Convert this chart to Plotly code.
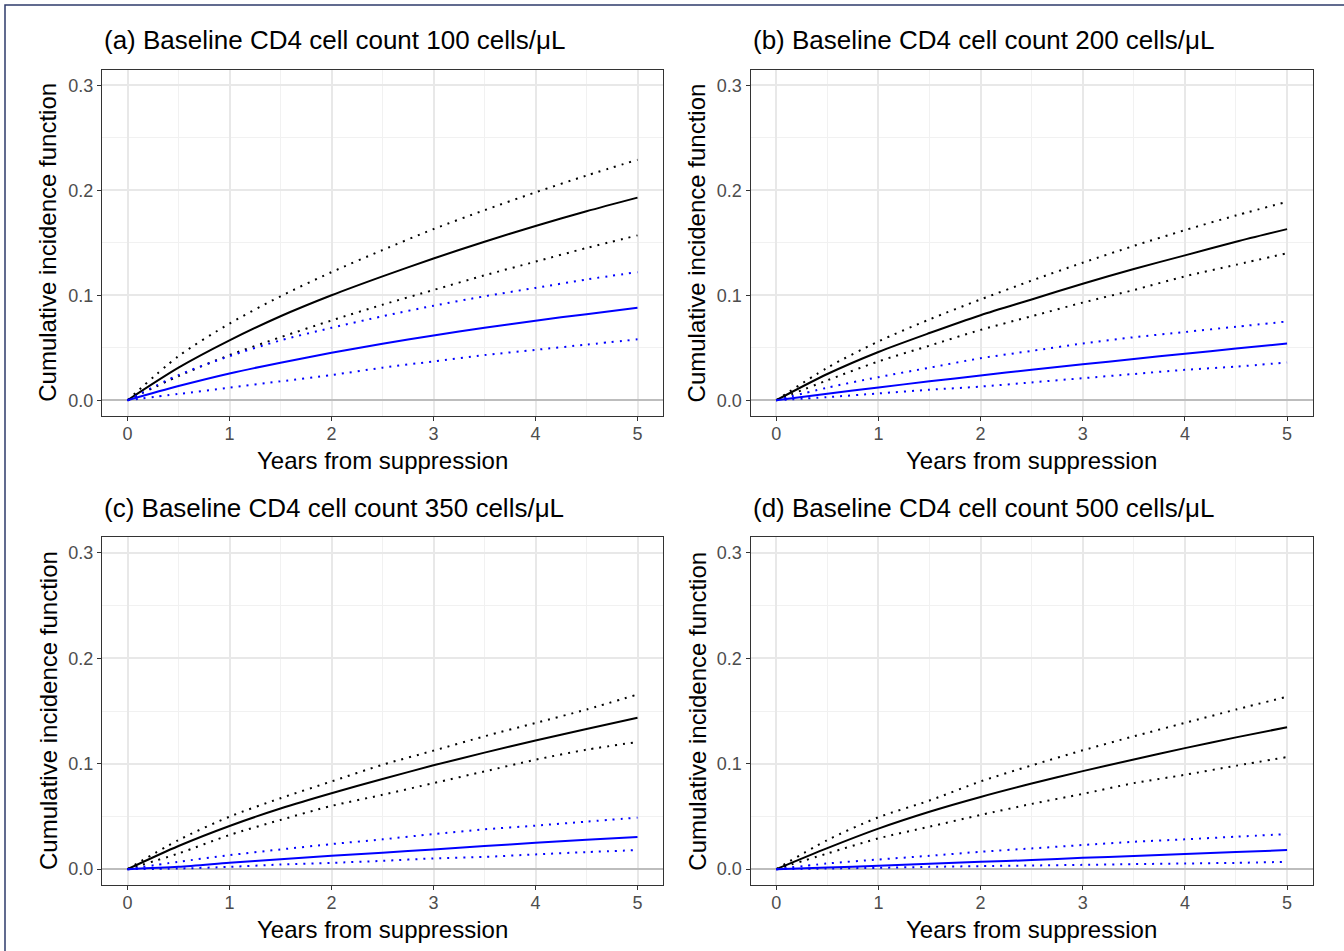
import plotly.graph_objects as go

# ---------------- data ----------------
years = [0, 0.5, 1, 1.5, 2, 2.5, 3, 3.5, 4, 4.5, 5]

panel_titles = [
    "(a) Baseline CD4 cell count 100 cells/μL",
    "(b) Baseline CD4 cell count 200 cells/μL",
    "(c) Baseline CD4 cell count 350 cells/μL",
    "(d) Baseline CD4 cell count 500 cells/μL",
]

# panel (a)
black_est_a = [0, 0.031, 0.057, 0.080, 0.100, 0.118, 0.135, 0.151, 0.166, 0.180, 0.193]
black_hi_a = [0, 0.042, 0.073, 0.099, 0.122, 0.143, 0.163, 0.181, 0.198, 0.214, 0.229]
black_lo_a = [0, 0.023, 0.043, 0.060, 0.076, 0.091, 0.105, 0.119, 0.132, 0.145, 0.157]
blue_hi_a = [0, 0.024, 0.042, 0.057, 0.069, 0.080, 0.090, 0.099, 0.107, 0.115, 0.122]
blue_est_a = [0, 0.0135, 0.0255, 0.0358, 0.0452, 0.0538, 0.0617, 0.069, 0.0758, 0.082, 0.088]
blue_lo_a = [0, 0.006, 0.012, 0.018, 0.024, 0.031, 0.037, 0.043, 0.048, 0.053, 0.058]

# panel (b)
black_est_b = [0, 0.025, 0.046, 0.064, 0.081, 0.096, 0.111, 0.125, 0.138, 0.151, 0.163]
black_hi_b = [0, 0.031, 0.056, 0.077, 0.096, 0.114, 0.131, 0.147, 0.162, 0.176, 0.189]
black_lo_b = [0, 0.019, 0.037, 0.052, 0.067, 0.080, 0.093, 0.105, 0.118, 0.129, 0.140]
blue_hi_b = [0, 0.012, 0.022, 0.031, 0.040, 0.047, 0.054, 0.060, 0.065, 0.070, 0.075]
blue_est_b = [0, 0.0062, 0.0122, 0.018, 0.0236, 0.029, 0.0342, 0.0393, 0.0443, 0.0492, 0.054]
blue_lo_b = [0, 0.003, 0.0065, 0.010, 0.013, 0.017, 0.021, 0.025, 0.029, 0.032, 0.036]

# panel (c)
black_est_c = [0, 0.022, 0.041, 0.0575, 0.072, 0.0855, 0.0985, 0.1105, 0.122, 0.133, 0.1435]
black_hi_c = [0, 0.0276, 0.0498, 0.0673, 0.0832, 0.099, 0.1124, 0.126, 0.1387, 0.1514, 0.1657]
black_lo_c = [0, 0.0149, 0.0324, 0.0467, 0.060, 0.0705, 0.0816, 0.0927, 0.1038, 0.1133, 0.1206]
blue_hi_c = [0, 0.007, 0.0133, 0.0187, 0.0238, 0.0283, 0.0333, 0.0378, 0.0413, 0.0451, 0.0489]
blue_est_c = [0, 0.0022, 0.006, 0.0095, 0.0127, 0.0156, 0.0187, 0.0219, 0.0251, 0.0279, 0.0305]
blue_lo_c = [0, 0.0006, 0.0022, 0.0044, 0.006, 0.0079, 0.0102, 0.0117, 0.014, 0.0162, 0.0181]

# panel (d)
black_est_d = [0, 0.020, 0.0385, 0.0545, 0.0685, 0.0812, 0.093, 0.104, 0.1148, 0.125, 0.1346]
black_hi_d = [0, 0.0276, 0.0492, 0.0651, 0.0832, 0.0984, 0.1127, 0.126, 0.1387, 0.1514, 0.1635]
black_lo_d = [0, 0.0149, 0.0292, 0.0403, 0.0514, 0.0619, 0.0714, 0.0816, 0.0895, 0.0981, 0.1063]
blue_hi_d = [0, 0.0054, 0.0092, 0.0127, 0.0165, 0.0197, 0.0229, 0.026, 0.0283, 0.0308, 0.0333]
blue_est_d = [0, 0.0016, 0.0032, 0.0051, 0.007, 0.0086, 0.0108, 0.0124, 0.0143, 0.0162, 0.0181]
blue_lo_d = [0, 0.0006, 0.0013, 0.0022, 0.0029, 0.0035, 0.0041, 0.0048, 0.0054, 0.006, 0.007]

x_ticks = [0, 1, 2, 3, 4, 5]
y_ticks = [0.0, 0.1, 0.2, 0.3]
y_tick_labels = ["0.0", "0.1", "0.2", "0.3"]
x_title = "Years from suppression"
y_title = "Cumulative incidence function"

panel_series = [
    (black_est_a, black_hi_a, black_lo_a, blue_est_a, blue_hi_a, blue_lo_a),
    (black_est_b, black_hi_b, black_lo_b, blue_est_b, blue_hi_b, blue_lo_b),
    (black_est_c, black_hi_c, black_lo_c, blue_est_c, blue_hi_c, blue_lo_c),
    (black_est_d, black_hi_d, black_lo_d, blue_est_d, blue_hi_d, blue_lo_d),
]

# ---------------- layout geometry (pixels) ----------------
W, H = 1344, 951
FONT = "Liberation Sans, Arial, Helvetica, sans-serif"
# left, right, top, bottom of each plotting panel in pixels
panel_px = [
    (102, 663, 69.5, 416),
    (750.7, 1312.6, 69.5, 416),
    (102, 663, 537, 885),
    (750.7, 1312.6, 537, 885),
]

def px_x(p):
    return p / W

def px_y(p):
    return (H - p) / H

fig = go.Figure()

BLACK = "#000000"
BLUE = "#0000FF"
DOT = "2px,6px"

for i, series in enumerate(panel_series):
    xa = "x" if i == 0 else f"x{i + 1}"
    ya = "y" if i == 0 else f"y{i + 1}"
    b_est, b_hi, b_lo, u_est, u_hi, u_lo = series
    styles = [
        (b_hi, BLACK, DOT),
        (b_lo, BLACK, DOT),
        (b_est, BLACK, "solid"),
        (u_hi, BLUE, DOT),
        (u_lo, BLUE, DOT),
        (u_est, BLUE, "solid"),
    ]
    for vals, col, dash in styles:
        fig.add_trace(go.Scatter(
            x=years, y=vals, mode="lines", xaxis=xa, yaxis=ya,
            line=dict(color=col, width=2, dash=dash, shape="spline", smoothing=0.8),
            hoverinfo="skip", showlegend=False,
        ))

annotations = []
for i, (l, r, t, b) in enumerate(panel_px):
    sfx = "" if i == 0 else str(i + 1)
    fig.layout["xaxis" + sfx] = dict(
        domain=[px_x(l), px_x(r)], range=[-0.25, 5.25], anchor="y" + sfx,
        tickvals=x_ticks, ticks="outside", ticklen=4, tickcolor="#333333", tickwidth=1.2,
        tickfont=dict(family=FONT, size=18, color="#4D4D4D"),
        ticklabelstandoff=-3,
        showgrid=True, gridcolor="#E8E8E8", gridwidth=1.6,
        minor=dict(tickvals=[0.5, 1.5, 2.5, 3.5, 4.5], showgrid=True,
                   gridcolor="#F1F1F1", gridwidth=1, ticks=""),
        showline=True, mirror=True, linecolor="#333333", linewidth=1.4,
        zeroline=False, fixedrange=True,
    )
    fig.layout["yaxis" + sfx] = dict(
        domain=[px_y(b), px_y(t)], range=[-0.015, 0.315], anchor="x" + sfx,
        tickvals=y_ticks, ticktext=y_tick_labels, ticks="outside", ticklen=4,
        tickcolor="#333333", tickwidth=1.2,
        tickfont=dict(family=FONT, size=18, color="#4D4D4D"),
        showgrid=True, gridcolor="#E8E8E8", gridwidth=1.6,
        minor=dict(tickvals=[0.05, 0.15, 0.25], showgrid=True,
                   gridcolor="#F1F1F1", gridwidth=1, ticks=""),
        showline=True, mirror=True, linecolor="#333333", linewidth=1.4,
        zeroline=True, zerolinecolor="#BDBDBD", zerolinewidth=2.2, fixedrange=True,
    )
    # panel title
    annotations.append(dict(
        text=panel_titles[i], xref="paper", yref="paper",
        x=px_x(l), y=px_y(t - 29), xanchor="left", yanchor="middle",
        showarrow=False, font=dict(family=FONT, size=26, color="#000000"),
    ))
    # x axis title
    annotations.append(dict(
        text=x_title, xref="paper", yref="paper",
        x=px_x((l + r) / 2), y=px_y(b + 44), xanchor="center", yanchor="middle",
        showarrow=False, font=dict(family=FONT, size=24, color="#000000"),
    ))
    # y axis title
    annotations.append(dict(
        text=y_title, xref="paper", yref="paper",
        x=px_x(l - 54), y=px_y((t + b) / 2), xanchor="center", yanchor="middle",
        textangle=-90, showarrow=False,
        font=dict(family=FONT, size=24, color="#000000"),
    ))

fig.update_layout(
    width=W, height=H,
    margin=dict(l=0, r=0, t=0, b=0, pad=0),
    paper_bgcolor="white", plot_bgcolor="white",
    showlegend=False,
    annotations=annotations,
    shapes=[dict(
        type="rect", xref="paper", yref="paper",
        x0=px_x(5), y0=px_y(5), x1=1.05, y1=-0.05,
        line=dict(color="#2E3B6B", width=1.5), fillcolor="rgba(0,0,0,0)",
        layer="above",
    )],
)

fig.write_html(
    "out.html",
    config={"displayModeBar": False},
    post_script="document.body.style.margin='0px';document.body.style.overflow='hidden';",
)
